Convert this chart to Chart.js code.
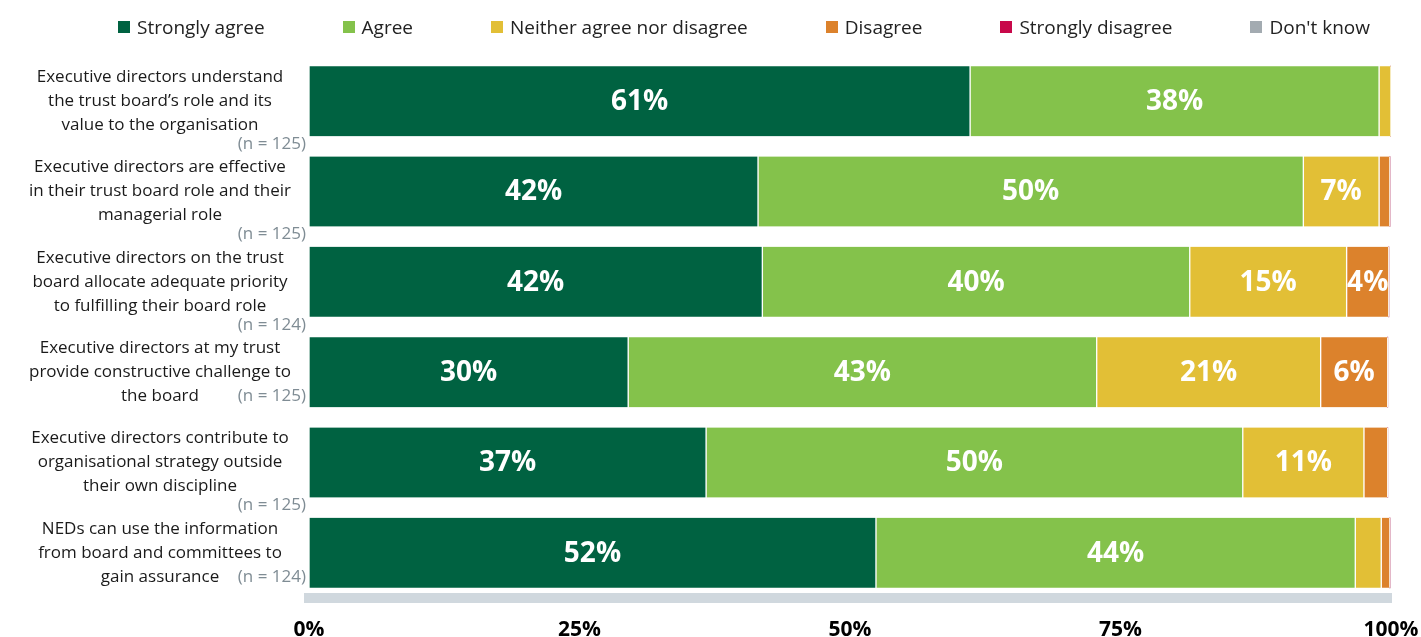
<!DOCTYPE html>
<html>
<head>
<meta charset="utf-8">
<script src="https://cdn.jsdelivr.net/npm/chart.js@4"></script>
<style>
    body { margin: 0; background: #fff; }
    #wrap { position: relative; width: 1421px; height: 637px; }
    #legend {
        position: absolute; top: 14px; left: 118px;
        display: flex; gap: 78px;
        font-family: 'Open Sans', sans-serif; font-size: 19px; color: #222;
    }
    #legend span.item { display: flex; align-items: center; }
    #legend span.box { width: 12px; height: 12px; margin-right: 7px; display: inline-block; }
</style>
</head>
<body>
<div id="wrap">
    <div id="legend"></div>
    <canvas id="chart" width="1421" height="637"></canvas>
</div>
<script>
const categories = [
    ['Executive directors understand', 'the trust board’s role and its', 'value to the organisation'],
    ['Executive directors are effective', 'in their trust board role and their', 'managerial role'],
    ['Executive directors on the trust', 'board allocate adequate priority', 'to fulfilling their board role'],
    ['Executive directors at my trust', 'provide constructive challenge to', 'the board'],
    ['Executive directors contribute to', 'organisational strategy outside', 'their own discipline'],
    ['NEDs can use the information', 'from board and committees to', 'gain assurance']
];
const sampleSizes = [125, 125, 124, 125, 125, 124];

const seriesNames = ['Strongly agree', 'Agree', 'Neither agree nor disagree', 'Disagree', 'Strongly disagree', "Don't know"];
const seriesColors = ['#006241', '#84c24b', '#e2bf36', '#dc822c', '#c8084a', '#a3abb1'];

const stronglyAgree = [61.1, 41.5, 41.9, 29.5, 36.7, 52.4];
const agree = [37.8, 50.4, 39.5, 43.3, 49.6, 44.3];
const neither = [1.1, 7.0, 14.5, 20.7, 11.2, 2.4];
const disagree = [0, 1.0, 3.9, 6.2, 2.2, 0.8];
const stronglyDisagree = [0, 0, 0, 0, 0, 0];
const dontKnow = [0, 0, 0, 0, 0, 0];

const tickValues = [0, 25, 50, 75, 100];

const seriesValues = [stronglyAgree, agree, neither, disagree, stronglyDisagree, dontKnow];

// legend
const legend = document.getElementById('legend');
seriesNames.forEach((name, i) => {
    const item = document.createElement('span');
    item.className = 'item';
    const box = document.createElement('span');
    box.className = 'box';
    box.style.background = seriesColors[i];
    item.appendChild(box);
    item.appendChild(document.createTextNode(name));
    legend.appendChild(item);
});

const barLabels = {
    id: 'barLabels',
    afterDatasetsDraw(chart) {
        const ctx = chart.ctx;
        ctx.save();
        ctx.font = "bold 28px 'Open Sans', sans-serif";
        ctx.fillStyle = '#fff';
        ctx.textAlign = 'center';
        ctx.textBaseline = 'middle';
        chart.data.datasets.forEach((ds, i) => {
            const meta = chart.getDatasetMeta(i);
            meta.data.forEach((bar, j) => {
                const v = ds.data[j];
                if (v < 3.5) return;
                const cx = (bar.x + bar.base) / 2;
                ctx.fillText(Math.round(v) + '%', cx, bar.y + 1);
            });
        });
        ctx.restore();
    }
};

// n labels sit on the last text line for these rows
const inlineRows = [3, 5];

const categoryLabels = {
    id: 'categoryLabels',
    afterDraw(chart) {
        const ctx = chart.ctx;
        const y = chart.scales.y;
        const lineH = 24;
        ctx.save();
        ctx.textBaseline = 'middle';
        categories.forEach((lines, i) => {
            const cy = y.getPixelForValue(i);
            ctx.font = "17px 'Open Sans', sans-serif";
            ctx.fillStyle = '#1a1a1a';
            ctx.textAlign = 'center';
            lines.forEach((line, k) => {
                ctx.fillText(line, 160, cy + (k - (lines.length - 1) / 2) * lineH);
            });
            ctx.fillStyle = '#7f8c94';
            ctx.textAlign = 'right';
            const ny = inlineRows.includes(i) ? cy + lineH : cy + 43;
            ctx.fillText('(n = ' + sampleSizes[i] + ')', 306, ny);
        });
        ctx.restore();
    }
};

new Chart(document.getElementById('chart'), {
    type: 'bar',
    data: {
        labels: categories,
        datasets: seriesNames.map((name, i) => ({
            label: name,
            data: seriesValues[i],
            backgroundColor: seriesColors[i],
            borderColor: '#fff',
            borderWidth: { top: 0, bottom: 0, left: 1, right: 1 },
            borderSkipped: false,
            barThickness: 70
        }))
    },
    options: {
        indexAxis: 'y',
        responsive: false,
        animation: false,
        layout: { padding: { left: 309, right: 30, top: 56, bottom: 0 } },
        plugins: {
            legend: { display: false },
            tooltip: { enabled: false }
        },
        scales: {
            x: {
                stacked: true,
                min: 0,
                max: 100,
                afterBuildTicks: axis => { axis.ticks = tickValues.map(v => ({ value: v })); },
                afterFit: axis => {
                    axis.height = 39;
                    axis.paddingLeft = 0;
                    axis.paddingRight = 0;
                },
                grid: { display: false },
                border: { display: true, color: '#d0d8de', width: 10 },
                ticks: {
                    padding: 11,
                    color: '#000',
                    font: { family: "'Open Sans', sans-serif", size: 21, weight: 'bold' },
                    callback: v => v + '%'
                }
            },
            y: {
                stacked: true,
                display: false
            }
        }
    },
    plugins: [barLabels, categoryLabels]
});
</script>
</body>
</html>
